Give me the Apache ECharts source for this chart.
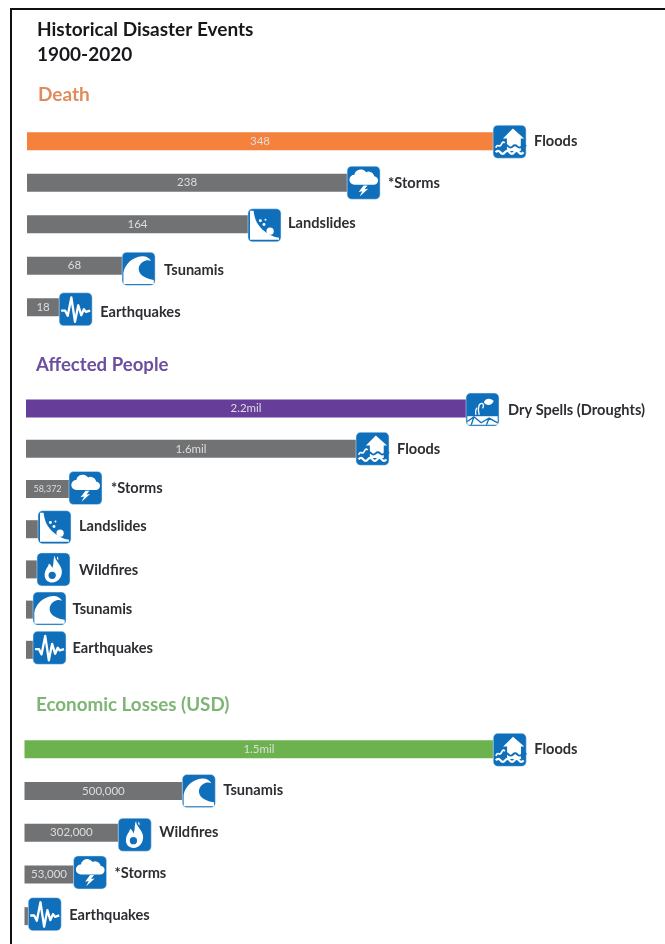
<!DOCTYPE html>
<html><head><meta charset="utf-8">
<style>html,body{margin:0;padding:0;background:#fff}#c{width:665px;height:944px;filter:blur(0.4px)}</style>
<script src="https://cdn.jsdelivr.net/npm/echarts@6/dist/echarts.min.js"></script>
</head><body><div id="c"></div>
<script>
// Bars in the source graphic are not drawn to scale for the smallest rows, so the plotted
// lengths are read from the picture (in each panel's unit); printed figures are kept separately.
const deathCategories = ['Floods','*Storms','Landslides','Tsunamis','Earthquakes'];
const deathLengths = [348,239,165,71,24];
const deathPrinted = ['348','238','164','68','18'];
const deathIcons = ['flood','storm','slide','wave','quake'];

const affectedCategories = ['Dry Spells (Droughts)','Floods','*Storms','Landslides','Wildfires','Tsunamis','Earthquakes'];
const affectedLengths = [2.2,1.65,0.215,0.06,0.055,0.035,0.035];
const affectedPrinted = ['2.2mil','1.6mil','58,372','','','',''];
const affectedIcons = ['drought','flood','storm','slide','fire','wave','quake'];

const lossCategories = ['Floods','Tsunamis','Wildfires','*Storms','Earthquakes'];
const lossLengths = [1500000,505000,300000,157000,12000];
const lossPrinted = ['1.5mil','500,000','302,000','53,000',''];
const lossIcons = ['flood','wave','fire','storm','quake'];

// Style only: the source's icons and captions sit slightly off their rows.
const NUDGE = [
  {icon:[0.5,0,1,3,2],       text:[0.5,1,-1,5,5],        gap:[0,0,-1,1,0]},
  {icon:[1,0,-1,-2,0,-1,-2], text:[1.5,0,-1,-2.5,1,0,-2], gap:[1,0,1,0,1,-1.5,-1.5]},
  {icon:[0.5,0,2,-2,-2],     text:[0,-1,0,-1,-1],        gap:[0,0,0,0,0]}
];

const FONT = 'Lato';
const BLUE = '#0f6fbb';
const GLYPHS = {
  flood:[
    {f:'M60 10 L94 40 L84 40 L84 78 L42 78 L42 40 L30 40Z'},
    {s:'M34 64 q7 -7 14 0 t14 0 t14 0 t14 0 t14 0',c:BLUE,w:6},
    {s:'M8 68 q4 -9 9 -6 t9 -6 t9 -2',w:5},
    {s:'M8 82 q7 -9 14 0 t14 0 t14 0 t14 0 t14 0 t14 0',w:7}
  ],
  storm:[
    {f:'M22 56 A15 15 0 0 1 22 26 A20 20 0 0 1 58 18 A17 17 0 0 1 82 30 A13 13 0 0 1 80 56Z'},
    {f:'M50 58 L35 78 L46 76 L38 92 L64 68 L53 70 L62 58Z'}
  ],
  slide:[
    {f:'M6 6 L17 6 C20 34 30 52 50 68 C62 78 78 86 94 88 L94 94 L6 94Z'},
    {f:'M56 68 a11 11 0 1 0 22 0 a11 11 0 1 0 -22 0Z'},
    {f:'M33 36 a4.5 4.5 0 1 0 9 0 a4.5 4.5 0 1 0 -9 0Z'},
    {f:'M44 48 a4.5 4.5 0 1 0 9 0 a4.5 4.5 0 1 0 -9 0Z'},
    {f:'M50 33 a3 3 0 1 0 6 0 a3 3 0 1 0 -6 0Z'}
  ],
  wave:[
    {f:'M4 96 L4 62 C8 36 32 14 60 12 C72 11 82 16 88 26 C74 20 58 28 52 42 C46 58 56 78 96 84 L96 96Z'}
  ],
  quake:[
    {s:'M6 54 L18 54 L26 70 L37 14 L48 88 L58 38 L67 68 L75 50 L81 58 L94 54',w:7}
  ],
  fire:[
    {f:'M54 8 C54 24 72 34 75 52 C78 74 62 90 47 90 C30 90 20 76 24 60 C26 48 34 44 36 32 C42 36 44 40 46 46 C52 34 48 20 54 8Z'},
    {f:'M35 68 a11 11 0 1 0 22 0 a11 11 0 1 0 -22 0Z',c:BLUE},
    {f:'M62 10 C64 14 66 17 64 22 C60 18 60 14 62 10Z'}
  ],
  drought:[
    {f:'M4 70 L96 70 L96 96 L4 96Z'},
    {s:'M4 86 L24 72 L46 90 L70 76 L96 90 M24 72 L16 96 M70 76 L62 96',c:BLUE,w:4},
    {s:'M40 66 C34 44 40 28 50 32 C54 34 54 40 50 46',w:4},
    {s:'M30 66 C28 56 28 50 34 44',w:4},
    {f:'M54 28 C60 12 78 16 84 24 C78 38 62 40 54 28Z'}
  ]
};
const CORNERS = 'M0 0L0 0M100 100L100 100';
const ICON = 33;

function panel(grid, lengths, printed, cats, icons, barColor){
  const n = NUDGE[grid];
  return [
    { type:'bar', xAxisIndex:grid, yAxisIndex:grid, barWidth:18, z:2,
      data: lengths.map((v,i)=>({ value:v, itemStyle:{color:i===0?barColor:'#707274'},
        label:{ show:!!printed[i], formatter:printed[i], position:'inside', color:'#dedede',
                fontFamily:FONT, fontSize:i>1&&grid===1?9:11.5 } })) },
    { type:'custom', xAxisIndex:grid, yAxisIndex:grid, z:5, silent:true,
      data: lengths.map((v,i)=>[v,i]),
      encode:{x:0,y:1},
      renderItem(params, api){
        const i = api.value(1);
        const p = api.coord([api.value(0), i]);
        const s = ICON/100;
        const kids = [{type:'rect', shape:{x:0,y:0,width:100,height:100,r:14},
          style:{fill:BLUE, stroke:'#dbe9f5', lineWidth:1.5}}];
        GLYPHS[icons[i]].forEach(g=>{
          kids.push({type:'path',
            shape:{pathData:(g.f||g.s)+CORNERS, x:0,y:0,width:100,height:100, layout:'cover'},
            style: g.f ? {fill:g.c||'#fff', stroke:null}
                       : {fill:null, stroke:g.c||'#fff', lineWidth:g.w, lineJoin:'round'}});
        });
        return {type:'group', children:[
          {type:'group', x:p[0], y:p[1]-ICON/2+n.icon[i], scaleX:s, scaleY:s, children:kids},
          {type:'text', x:p[0]+ICON+8+n.gap[i], y:p[1]+n.text[i],
            style:{text:cats[i], fill:'#2c2e32', fontFamily:FONT, fontWeight:700, fontSize:14.6,
                   textAlign:'left', textVerticalAlign:'middle'}}
        ]};
      } }
  ];
}

function yAxis(grid,cats){ return {type:'category',gridIndex:grid,inverse:true,data:cats,show:false}; }
function xAxis(grid,max){ return {type:'value',gridIndex:grid,min:0,max:max,show:false}; }
function head(text,left,top,color,size){
  return {text,left,top,padding:0,textStyle:{color,fontFamily:FONT,fontWeight:700,fontSize:size}};
}

const chart = echarts.init(document.getElementById('c'),null,{renderer:'canvas'});
chart.setOption({
  animation:false,
  backgroundColor:'#fff',
  title:[
    head('Historical Disaster Events',37,20,'#17181b',19),
    head('1900-2020',37,45,'#17181b',19),
    head('Death',38,85,'#df8c5a',19),
    head('Affected People',36,355,'#6b4f9e',18.6),
    head('Economic Losses (USD)',36,695,'#7eb574',18.8)
  ],
  grid:[
    {left:27,top:120.5,width:600,height:207.5},
    {left:26,top:388.5,width:600,height:281.4},
    {left:24.5,top:728.5,width:600,height:208.5}
  ],
  xAxis:[xAxis(0,448),xAxis(1,3),xAxis(2,1920000)],
  yAxis:[yAxis(0,deathCategories),yAxis(1,affectedCategories),yAxis(2,lossCategories)],
  series:[
    ...panel(0,deathLengths,deathPrinted,deathCategories,deathIcons,'#f4813c'),
    ...panel(1,affectedLengths,affectedPrinted,affectedCategories,affectedIcons,'#663d99'),
    ...panel(2,lossLengths,lossPrinted,lossCategories,lossIcons,'#6cb24f')
  ],
  graphic:[
    {type:'rect',silent:true,z:10,shape:{x:11,y:9,width:670,height:950},
     style:{fill:null,stroke:'#111',lineWidth:2}}
  ]
});
</script></body></html>
